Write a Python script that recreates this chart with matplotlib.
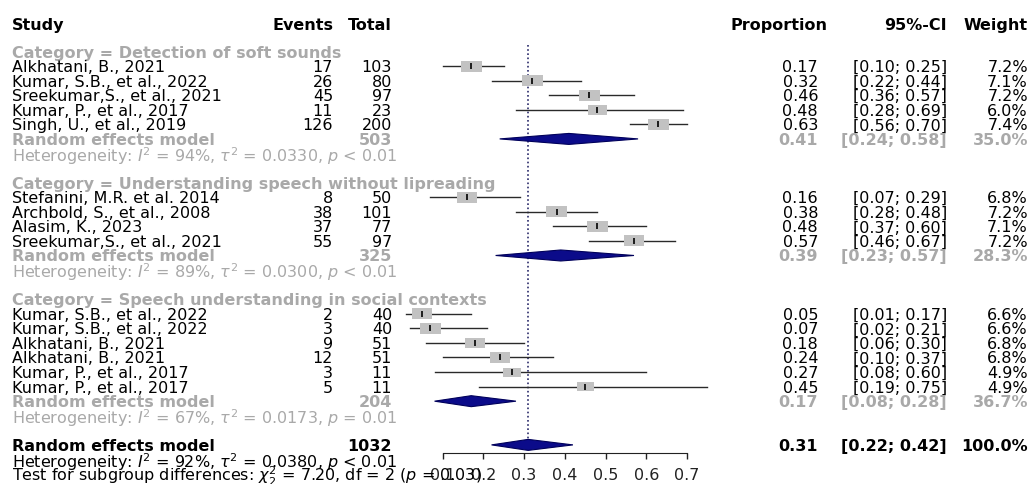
"""
plot.py - forest plot of pooled proportions by category
"""

import matplotlib
matplotlib.use("Agg")
import matplotlib.pyplot as plt
import matplotlib.transforms as mtransforms
from matplotlib.patches import Rectangle, Polygon
import numpy as np

# ---- data ----
categories = ["Detection of soft sounds",
              "Understanding speech without lipreading",
              "Speech understanding in social contexts"]

study = ["Alkhatani, B., 2021", "Kumar, S.B., et al., 2022",
         "Sreekumar,S., et al., 2021", "Kumar, P., et al., 2017",
         "Singh, U., et al., 2019",
         "Stefanini, M.R. et al. 2014", "Archbold, S., et al., 2008",
         "Alasim, K., 2023", "Sreekumar,S., et al., 2021",
         "Kumar, S.B., et al., 2022", "Kumar, S.B., et al., 2022",
         "Alkhatani, B., 2021", "Alkhatani, B., 2021",
         "Kumar, P., et al., 2017", "Kumar, P., et al., 2017"]
group_id = [0, 0, 0, 0, 0, 1, 1, 1, 1, 2, 2, 2, 2, 2, 2]
events = [17, 26, 45, 11, 126, 8, 38, 37, 55, 2, 3, 9, 12, 3, 5]
total = [103, 80, 97, 23, 200, 50, 101, 77, 97, 40, 40, 51, 51, 11, 11]
prop = [0.17, 0.32, 0.46, 0.48, 0.63, 0.16, 0.38, 0.48, 0.57,
        0.05, 0.07, 0.18, 0.24, 0.27, 0.45]
ci_lo = [0.10, 0.22, 0.36, 0.28, 0.56, 0.07, 0.28, 0.37, 0.46,
         0.01, 0.02, 0.06, 0.10, 0.08, 0.19]
ci_hi = [0.25, 0.44, 0.57, 0.69, 0.70, 0.29, 0.48, 0.60, 0.67,
         0.17, 0.21, 0.30, 0.37, 0.60, 0.75]
weight = [7.2, 7.1, 7.2, 6.0, 7.4, 6.8, 7.2, 7.1, 7.2,
          6.6, 6.6, 6.8, 6.8, 4.9, 4.9]

# subgroup random effects
sub_total = [503, 325, 204]
sub_prop = [0.41, 0.39, 0.17]
sub_lo = [0.24, 0.23, 0.08]
sub_hi = [0.58, 0.57, 0.28]
sub_weight = [35.0, 28.3, 36.7]
sub_i2 = [94, 89, 67]
sub_tau2 = ["0.0330", "0.0300", "0.0173"]
sub_p = ["< 0.01", "< 0.01", "= 0.01"]

# overall random effects
all_total = 1032
all_prop, all_lo, all_hi = 0.31, 0.22, 0.42
all_i2, all_tau2, all_p = 92, "0.0380", "< 0.01"
test_chi2, test_df, test_p = "7.20", 2, "= 0.03"

x_ticks = [0.1, 0.2, 0.3, 0.4, 0.5, 0.6, 0.7]

# ---- layout ----
W, H = 1035, 484
x0_px, unit_px = 402, 407        # pixel of proportion 0, pixels per unit
row0_px, row_px = 51.5, 14.57    # pixel of first row, pixels per row

grey = "darkgray"
fs = 11.5

fig = plt.figure(figsize=(W / 100, H / 100), dpi=100)
ax = fig.add_axes([0, 0, 1, 1])
ax.set_xlim(-x0_px / unit_px, (W - x0_px) / unit_px)
ax.set_ylim((H - row0_px) / row_px, -row0_px / row_px)
col = mtransforms.blended_transform_factory(fig.transFigure, ax.transData)


def put(xpx, row, s, ha="left", **kw):
    ax.text(xpx / W, row, s, transform=col, ha=ha, va="center_baseline",
            fontsize=fs, **kw)


def diamond(est, lo, hi, row):
    hd = 5.5 / row_px
    ax.add_patch(Polygon([(lo, row), (est, row - hd), (hi, row), (est, row + hd)],
                         closed=True, facecolor="#0b0b8a", edgecolor="#00005a",
                         lw=0.8, zorder=3))


# header
head_row = (24 - row0_px) / row_px
put(12, head_row, "Study", fontweight="bold")
put(333, head_row, "Events", ha="right", fontweight="bold")
put(392, head_row, "Total", ha="right", fontweight="bold")
put(827, head_row, "Proportion", ha="right", fontweight="bold")
put(947, head_row, "95%-CI", ha="right", fontweight="bold")
put(1028, head_row, "Weight", ha="right", fontweight="bold")

row = 0
for g, cat in enumerate(categories):
    put(12, row, f"Category = {cat}", color=grey, fontweight="bold")
    row += 1
    for i in [k for k, gid in enumerate(group_id) if gid == g]:
        put(12, row, study[i])
        put(333, row, str(events[i]), ha="right")
        put(392, row, str(total[i]), ha="right")
        put(818, row, f"{prop[i]:.2f}", ha="right")
        put(947, row, f"[{ci_lo[i]:.2f}; {ci_hi[i]:.2f}]", ha="right")
        put(1028, row, f"{weight[i]:.1f}%", ha="right")

        ax.plot([ci_lo[i], ci_hi[i]], [row, row], color="#2a2a2a", lw=1, zorder=2)
        sw = 7.8 * np.sqrt(weight[i]) / unit_px
        sh = 4.1 * np.sqrt(weight[i]) / row_px
        ax.add_patch(Rectangle((prop[i] - sw / 2, row - sh / 2), sw, sh,
                               facecolor="#c2c2c2", edgecolor="none", zorder=3))
        ax.plot([prop[i]], [row], marker="|", ms=5, mew=1.2, color="black", zorder=4)
        row += 1

    put(12, row, "Random effects model", color=grey, fontweight="bold")
    put(392, row, str(sub_total[g]), ha="right", color=grey, fontweight="bold")
    put(818, row, f"{sub_prop[g]:.2f}", ha="right", color=grey, fontweight="bold")
    put(947, row, f"[{sub_lo[g]:.2f}; {sub_hi[g]:.2f}]", ha="right",
        color=grey, fontweight="bold")
    put(1028, row, f"{sub_weight[g]:.1f}%", ha="right", color=grey, fontweight="bold")
    diamond(sub_prop[g], sub_lo[g], sub_hi[g], row)
    row += 1
    put(12, row, rf"Heterogeneity: $I^2$ = {sub_i2[g]}%, $\tau^2$ = {sub_tau2[g]}, "
                 rf"$p$ {sub_p[g]}", color=grey)
    row += 2

# overall
put(12, row, "Random effects model", fontweight="bold")
put(392, row, str(all_total), ha="right", fontweight="bold")
put(818, row, f"{all_prop:.2f}", ha="right", fontweight="bold")
put(947, row, f"[{all_lo:.2f}; {all_hi:.2f}]", ha="right", fontweight="bold")
put(1028, row, "100.0%", ha="right", fontweight="bold")
diamond(all_prop, all_lo, all_hi, row)
ax.plot([all_prop, all_prop], [(45 - row0_px) / row_px, row], color="#2b2b6b",
        lw=1.2, ls=(0, (1, 1.5)), zorder=1)
put(12, row + 1, rf"Heterogeneity: $I^2$ = {all_i2}%, $\tau^2$ = {all_tau2}, $p$ {all_p}")
put(12, row + 1.93, rf"Test for subgroup differences: $\chi^2_{test_df}$ = {test_chi2}, "
                    rf"df = {test_df} ($p$ {test_p})")

# x axis under the forest
axis_row = (453 - row0_px) / row_px
for side in ["top", "left", "right"]:
    ax.spines[side].set_visible(False)
ax.spines["bottom"].set_position(("data", axis_row))
ax.spines["bottom"].set_bounds(x_ticks[0], x_ticks[-1])
ax.spines["bottom"].set_color("#222222")
ax.set_xticks(x_ticks)
ax.set_xticklabels([f"{t:.1f}" for t in x_ticks])
ax.tick_params(axis="x", direction="out", length=4.5, width=1, pad=6.5,
               labelsize=fs, colors="#222222")
ax.set_yticks([])
ax.patch.set_visible(False)

fig.savefig("out.png", dpi=100, facecolor="white")
